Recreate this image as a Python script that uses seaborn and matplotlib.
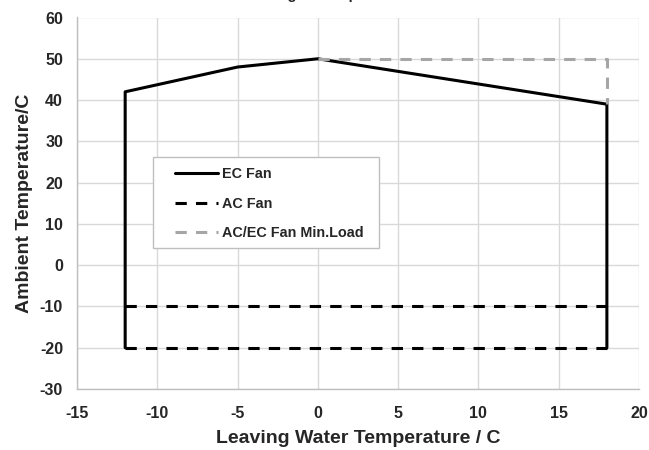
import matplotlib
matplotlib.use("Agg")
import matplotlib.pyplot as plt
from matplotlib.patches import Rectangle
import seaborn as sns
import pandas as pd

# Data
ec_x = [-12, -12, -5, 0, 18, 18]
ec_y = [-20, 42, 48, 50, 39, -20]
ac_low_x = [-12, 18]
ac_low_y = [-20, -20]
ac_mid_x = [-12, 18]
ac_mid_y = [-10, -10]
min_x = [0, 18, 18]
min_y = [50, 50, 39]
x_ticks = [-15, -10, -5, 0, 5, 10, 15, 20]
y_ticks = [-30, -20, -10, 0, 10, 20, 30, 40, 50, 60]

sns.set_theme(style="white")
plt.rcParams['font.family'] = ['Liberation Sans', 'DejaVu Sans']
plt.rcParams['font.weight'] = 'bold'
plt.rcParams['axes.unicode_minus'] = False

W, H = 649, 450
fig = plt.figure(figsize=(W/100, H/100), dpi=100)
ax = fig.add_axes([77/W, 1-389/H, (639-77)/W, (389-17.5)/H])

lw = 2.2
dash = (3.7, 3.0)

ec_df = pd.DataFrame({"x": ec_x, "y": ec_y})
sns.lineplot(data=ec_df, x="x", y="y", sort=False, estimator=None, ax=ax,
             color="black", lw=lw, label="EC Fan")
ac2 = pd.DataFrame({"x": ac_mid_x, "y": ac_mid_y})
sns.lineplot(data=ac2, x="x", y="y", sort=False, estimator=None, ax=ax,
             color="black", lw=lw, label="AC Fan")
ax.lines[-1].set_dashes(dash)
ac1 = pd.DataFrame({"x": ac_low_x, "y": ac_low_y})
sns.lineplot(data=ac1, x="x", y="y", sort=False, estimator=None, ax=ax,
             color="black", lw=lw)
ax.lines[-1].set_dashes(dash)
mn = pd.DataFrame({"x": min_x, "y": min_y})
sns.lineplot(data=mn, x="x", y="y", sort=False, estimator=None, ax=ax,
             color="#A6A6A6", lw=lw, label="AC/EC Fan Min.Load")
ax.lines[-1].set_dashes(dash)

ax.set_xlim(-15, 20)
ax.set_ylim(-30, 60)
ax.set_xticks(x_ticks)
ax.set_yticks(y_ticks)
ax.set_xticklabels([str(v) for v in x_ticks])
ax.set_yticklabels([str(v) for v in y_ticks])
ax.grid(True, color="#D9D9D9", lw=1)
ax.set_axisbelow(True)
for s in ["top", "right"]:
    ax.spines[s].set_visible(False)
for s in ["left", "bottom"]:
    ax.spines[s].set_color("#BFBFBF")
    ax.spines[s].set_linewidth(1)
ax.tick_params(axis="x", length=0, labelsize=11.5, pad=12)
ax.tick_params(axis="y", length=0, labelsize=11.5, pad=10)
for t in ax.get_xticklabels() + ax.get_yticklabels():
    t.set_fontweight("bold")
ax.set_xlabel("Leaving Water Temperature / C", fontsize=14, fontweight="bold", labelpad=7)
ax.set_ylabel("Ambient Temperature/C", fontsize=14, fontweight="bold", labelpad=5)

leg = ax.legend(loc="upper left", bbox_to_anchor=(175/W, 1-167/H),
                bbox_transform=fig.transFigure, borderaxespad=0,
                frameon=False, prop={"weight": "bold", "size": 10.4},
                handlelength=3.0, labelspacing=1.08, borderpad=0, handletextpad=0.25)
frame = Rectangle((153/W, 1-248/H), (379-153)/W, (248-157)/H,
                  transform=fig.transFigure, facecolor="white",
                  edgecolor="#BFBFBF", lw=1, zorder=4, clip_on=False)
ax.add_patch(frame)
leg.set_zorder(6)

# chart title, cut off by the top edge of the picture (only descenders show)
fig.text(303.5/W, 1 + 0.5/H, "Cooling Envelope", ha="center", va="baseline",
         fontsize=10.5, fontweight="bold")

fig.savefig("out.png", dpi=100)
